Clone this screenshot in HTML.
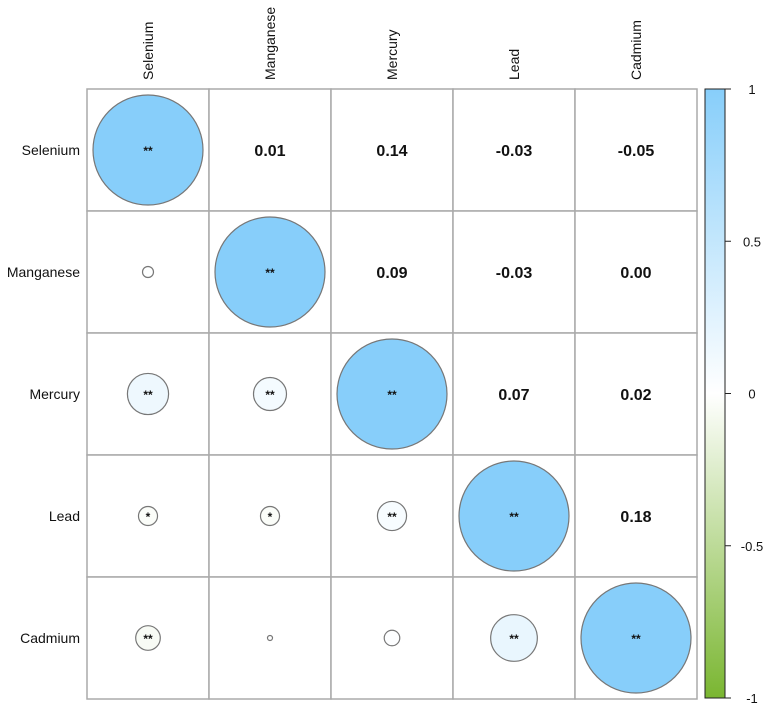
<!DOCTYPE html>
<html><head><meta charset="utf-8"><style>
body{margin:0;background:#fff;}
svg{font-family:"Liberation Sans",Arial,sans-serif;}
</style></head><body>
<svg id="chart" width="767" height="708" viewBox="0 0 767 708" xmlns="http://www.w3.org/2000/svg">
<defs>
<linearGradient id="cbar" x1="0" y1="0" x2="0" y2="1">
<stop offset="0" stop-color="#87CEFA"/>
<stop offset="0.5" stop-color="#FFFFFF"/>
<stop offset="1" stop-color="#7AB631"/>
</linearGradient>
</defs>
<g id="cells"></g>
<g id="marks"></g>
<g id="labels"></g>
<rect x="705" y="89" width="20" height="609" fill="url(#cbar)" stroke="#222" stroke-width="1"/>
<g id="cbticks"></g>
</svg>
<script>
const vars = ["Selenium","Manganese","Mercury","Lead","Cadmium"];
const corrRow0 = [1, 0.01, 0.14, -0.03, -0.05];
const corrRow1 = [0.01, 1, 0.09, -0.03, 0.00];
const corrRow2 = [0.14, 0.09, 1, 0.07, 0.02];
const corrRow3 = [-0.03, -0.03, 0.07, 1, 0.18];
const corrRow4 = [-0.05, 0.00, 0.02, 0.18, 1];
const sigRow0 = ["**","","","",""];
const sigRow1 = ["","**","","",""];
const sigRow2 = ["**","**","**","",""];
const sigRow3 = ["*","*","**","**",""];
const sigRow4 = ["**","","","**","**"];
const cbTicks = [1, 0.5, 0, -0.5, -1];
const cbTickLabels = ["1","0.5","0","-0.5","-1"];

const corr=[corrRow0,corrRow1,corrRow2,corrRow3,corrRow4];
const sig=[sigRow0,sigRow1,sigRow2,sigRow3,sigRow4];
const NS="http://www.w3.org/2000/svg";
const x0=87,y0=89,cw=122,n=5;
const cx=i=>x0+cw*i+cw/2, cy=i=>y0+cw*i+cw/2;
const rScale=v=>Math.max(2.5,Math.sqrt(Math.abs(v))*55);
const cbY=v=>89+(1-v)/2*609;
function mix(a,b,t){return a.map((c,k)=>Math.round(c+(b[k]-c)*t));}
function color(v){const w=[255,255,255];const c=v>=0?mix(w,[135,206,250],v):mix(w,[122,182,49],-v);return `rgb(${c.join(',')})`;}
function el(tag,attrs,parent){const e=document.createElementNS(NS,tag);for(const k in attrs)e.setAttribute(k,attrs[k]);parent.appendChild(e);return e;}
const cells=document.getElementById('cells'),marks=document.getElementById('marks'),labels=document.getElementById('labels'),cbt=document.getElementById('cbticks');
for(let i=0;i<n;i++){for(let j=0;j<n;j++){
  const r=el('rect',{x:x0+cw*j,y:y0+cw*i,width:cw,height:cw,fill:'#fff',stroke:'#aaa','stroke-width':1.5},cells);
  
  
  const v=corr[i][j];
  if(j>i){
    const t=el('text',{x:cx(j),y:cy(i)+6,'text-anchor':'middle','font-size':16,'font-weight':'bold',fill:'#111'},marks);
    t.textContent=v.toFixed(2);
    
    
  } else {
    const c=el('circle',{cx:cx(j),cy:cy(i),r:rScale(v),fill:color(v),stroke:'#777','stroke-width':1.2},marks);
    
    
    if(sig[i][j]){
      const s=el('text',{x:cx(j),y:cy(i)+5,'text-anchor':'middle','font-size':12,'font-weight':'bold',fill:'#111'},marks);
      s.textContent=sig[i][j].replace(/\*/g,'★').length?sig[i][j]:'';
      s.textContent=sig[i][j];
      
      
    }
  }
}
  const rl=el('text',{x:80,y:cy(i)+5,'text-anchor':'end','font-size':14,fill:'#111'},labels);
  rl.textContent=vars[i];
  
  
  const cl=el('text',{x:0,y:0,'text-anchor':'start','font-size':14,fill:'#111',transform:`translate(${cx(i)+5},80) rotate(-90)`},labels);
  cl.textContent=vars[i];
  
  
}
cbTicks.forEach((v,k)=>{
  const y=cbY(v);
  const l=el('line',{x1:725,x2:731,y1:y,y2:y,stroke:'#222','stroke-width':1},cbt);
  
  
  const t=el('text',{x:752,y:y+5,'text-anchor':'middle','font-size':13,fill:'#111'},cbt);
  t.textContent=cbTickLabels[k];
  
  
});
</script>
</body></html>
